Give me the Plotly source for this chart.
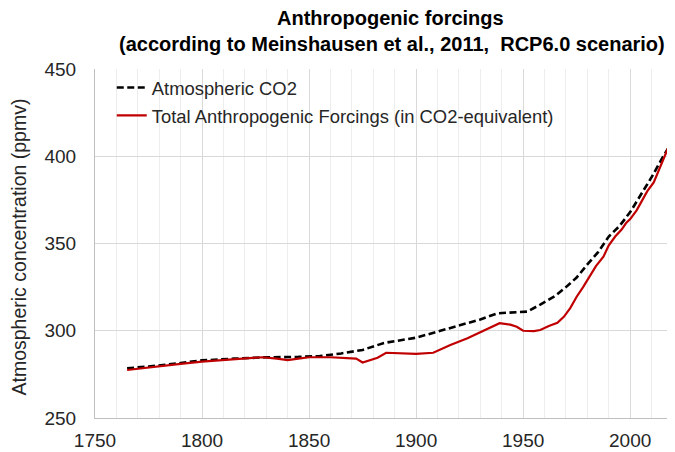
import plotly.graph_objects as go

# Atmospheric CO2 (ppmv)
co2_years = [1765, 1775, 1790, 1800, 1815, 1830, 1845, 1855, 1865, 1875, 1885, 1895,
             1900, 1910, 1920, 1930, 1938, 1945, 1952, 1958, 1965, 1970, 1975, 1980,
             1985, 1990, 1995, 2000, 2005, 2010, 2015, 2018]
co2_values = [278.5, 279.5, 281.5, 283.0, 284.0, 284.8, 285.0, 285.5, 287.0, 289.0, 293.0, 295.0,
              296.0, 299.5, 303.0, 306.5, 310.0, 310.5, 311.0, 315.0, 320.0, 325.0, 330.5, 338.0,
              345.0, 354.0, 360.0, 368.0, 378.0, 388.0, 399.0, 405.0]

# Total anthropogenic forcings in CO2-equivalent (ppmv)
tot_years = [1765, 1775, 1790, 1800, 1815, 1828, 1835, 1840, 1845, 1850, 1860, 1868,
             1872, 1875, 1878, 1882, 1886, 1892, 1900, 1908, 1916, 1924, 1931, 1936,
             1939, 1944, 1947, 1950, 1955, 1958, 1962, 1966, 1969, 1972, 1975, 1978,
             1981, 1984, 1987.5, 1990, 1993, 1996, 1998, 2000, 2003, 2006, 2008, 2011,
             2014, 2017, 2019.5]
tot_values = [277.5, 279.0, 281.0, 282.3, 283.5, 284.8, 284.0, 283.2, 284.0, 284.8, 284.8, 284.5,
              284.0, 281.8, 283.0, 284.5, 287.4, 287.2, 286.8, 287.4, 291.8, 295.7, 299.5, 302.5,
              304.3, 303.5, 302.3, 300.0, 299.8, 300.4, 302.7, 304.5, 308.0, 313.0, 319.5, 325.0,
              331.0, 337.0, 342.4, 349.0, 354.0, 358.0, 361.6, 364.0, 369.0, 376.0, 380.0, 385.0,
              394.0, 403.0, 410.0]

x_ticks = [1750, 1800, 1850, 1900, 1950, 2000]
y_ticks = [250, 300, 350, 400, 450]

title_line1 = "Anthropogenic forcings"
title_line2 = "(according to Meinshausen et al., 2011,  RCP6.0 scenario)"
y_title = "Atmospheric concentration (ppmv)"

FONT = "Liberation Sans, Arial, sans-serif"

fig = go.Figure()
fig.add_trace(go.Scatter(
    x=co2_years, y=co2_values, mode="lines", name="Atmospheric CO2",
    legendgroup="a",
    line=dict(color="#000000", width=2.6, dash="7px,3.5px"),
))
fig.add_trace(go.Scatter(
    x=tot_years, y=tot_values, mode="lines",
    name="Total Anthropogenic Forcings (in CO2-equivalent)",
    legendgroup="b",
    line=dict(color="#C00000", width=2.2),
))

fig.update_layout(
    width=667, height=444,
    margin=dict(l=87, r=2, t=61, b=34, autoexpand=False),
    paper_bgcolor="white", plot_bgcolor="white",
    font=dict(family=FONT, color="#404040"),
    showlegend=True,
    legend=dict(
        x=0.029, y=1, xanchor="left", yanchor="top",
        bgcolor="rgba(0,0,0,0)", font=dict(family=FONT, size=18.4, color="#262626"),
        itemwidth=30, tracegroupgap=1,
    ),
    xaxis=dict(
        range=[1750, 2020], tickvals=x_ticks, ticktext=[str(v) for v in x_ticks],
        showgrid=True, gridcolor="#d9d9d9", gridwidth=1,
        minor=dict(dtick=10, showgrid=True, gridcolor="#ededed", gridwidth=1, tick0=1750),
        showline=True, linecolor="#bfbfbf", linewidth=1,
        ticks="", ticklabelstandoff=5, automargin=False,
        tickfont=dict(family=FONT, size=19, color="#262626"),
        zeroline=False,
    ),
    yaxis=dict(
        range=[250, 450], tickvals=y_ticks, ticktext=[str(v) for v in y_ticks],
        showgrid=True, gridcolor="#d9d9d9", gridwidth=1,
        showline=True, linecolor="#bfbfbf", linewidth=1,
        ticks="", ticklabelstandoff=14, automargin=False,
        tickfont=dict(family=FONT, size=19, color="#262626"),
        zeroline=False,
    ),
    annotations=[
        dict(text="<b>" + title_line1 + "</b>", xref="paper", yref="paper",
             x=0.5, y=1, xanchor="center", yanchor="middle", xshift=6, yshift=51,
             showarrow=False, font=dict(family=FONT, size=20, color="#000000")),
        dict(text="<b>" + title_line2 + "</b>", xref="paper", yref="paper",
             x=0.5, y=1, xanchor="center", yanchor="middle", xshift=8, yshift=25,
             showarrow=False, font=dict(family=FONT, size=20, color="#000000")),
        dict(text=y_title, xref="paper", yref="paper", textangle=-90,
             x=0, y=0.5, xanchor="center", yanchor="middle", xshift=-77, yshift=-4,
             showarrow=False, font=dict(family=FONT, size=19.5, color="#262626")),
    ],
)

fig.write_html("out.html")
